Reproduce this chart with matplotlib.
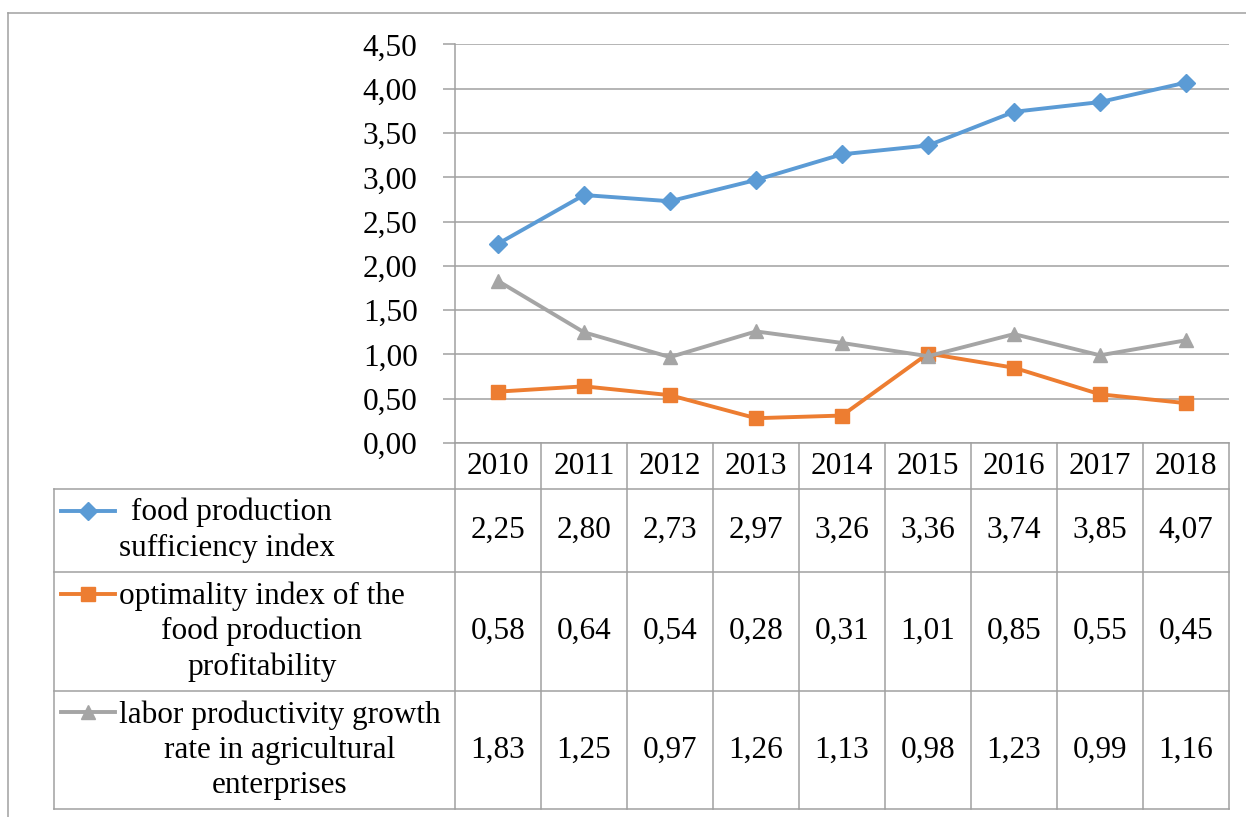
import matplotlib
matplotlib.use("Agg")
import matplotlib.pyplot as plt
from matplotlib import transforms

plt.rcParams['font.family'] = ['Liberation Serif', 'DejaVu Serif']

years = ["2010", "2011", "2012", "2013", "2014", "2015", "2016", "2017", "2018"]
sufficiency = [2.25, 2.80, 2.73, 2.97, 3.26, 3.36, 3.74, 3.85, 4.07]
profitability = [0.58, 0.64, 0.54, 0.28, 0.31, 1.01, 0.85, 0.55, 0.45]
labor_growth = [1.83, 1.25, 0.97, 1.26, 1.13, 0.98, 1.23, 0.99, 1.16]
series_labels = [
    " food production\nsufficiency index",
    "optimality index of the\nfood production\nprofitability",
    "labor productivity growth\nrate in agricultural\nenterprises",
]
y_ticks = [0.0, 0.5, 1.0, 1.5, 2.0, 2.5, 3.0, 3.5, 4.0, 4.5]

colors = ["#5B9BD5", "#ED7D31", "#A5A5A5"]
markers = ["D", "s", "^"]
msizes = [9, 10.5, 10.5]
grid_c = "#A0A0A0"
FS = 22.5

W, H = 1246, 817
fig = plt.figure(figsize=(W / 100, H / 100), dpi=100)

# overlay in pixel coordinates for frame and data table
ov = fig.add_axes([0, 0, 1, 1], zorder=0)
ov.set_xlim(0, W)
ov.set_ylim(H, 0)
ov.axis("off")

# plot area
x_left, x_right = 455, 1229
y_top, y_bot = 44.5, 443
ax = fig.add_axes([x_left / W, (H - y_bot) / H, (x_right - x_left) / W, (y_bot - y_top) / H], zorder=1)
ax.patch.set_alpha(0)
ax.set_xlim(-0.5, len(years) - 0.5)
ax.set_ylim(0, 4.5)
ax.set_yticks(y_ticks)
ax.set_yticklabels([f"{v:.2f}".replace(".", ",") for v in y_ticks], fontsize=FS)
ax.set_xticks([])
ax.tick_params(axis="y", length=9, width=1.1, color=grid_c, pad=18)
for s in ("top", "right"):
    ax.spines[s].set_visible(False)
for s in ("left", "bottom"):
    ax.spines[s].set_color(grid_c)
    ax.spines[s].set_linewidth(1.1)
ax.grid(axis="y", color=grid_c, linewidth=1.1)
ax.set_axisbelow(True)

xs = list(range(len(years)))
all_series = [sufficiency, profitability, labor_growth]
for vals, c, m, ms in zip(all_series, colors, markers, msizes):
    ax.plot(xs, vals, color=c, linewidth=2.8, marker=m, markersize=ms,
            markeredgecolor=c, clip_on=False, zorder=3)

# data table below the axis
bt = transforms.blended_transform_factory(ax.transData, ov.transData)
legend_left = 54
row_edges = [y_bot, 489, 572, 691, 809]
lw = 1.1
# horizontal rules
for y in row_edges[1:]:
    ov.plot([legend_left, x_right], [y, y], color=grid_c, lw=lw)
# vertical rules between years
for i in range(len(years) + 1):
    ov.plot([i - 0.5, i - 0.5], [row_edges[0], row_edges[-1]], color=grid_c, lw=lw, transform=bt)
ov.plot([legend_left, legend_left], [row_edges[1], row_edges[-1]], color=grid_c, lw=lw)

# header row with years
yh = (row_edges[0] + row_edges[1]) / 2
for i, yr in enumerate(years):
    ov.text(i, yh, yr, transform=bt, ha="center", va="center", fontsize=FS)

# series rows
for r, (vals, lab, c, m, ms) in enumerate(zip(all_series, series_labels, colors, markers, msizes)):
    y0, y1 = row_edges[r + 1], row_edges[r + 2]
    yc = (y0 + y1) / 2
    for i, v in enumerate(vals):
        ov.text(i, yc, f"{v:.2f}".replace(".", ","), transform=bt,
                ha="center", va="center", fontsize=FS)
    ov.text(119, yc, lab, ha="left", va="center", multialignment="center",
            fontsize=FS, linespacing=1.27)
    nlines = lab.count("\n") + 1
    ky = yc - (nlines - 1) * 18 - 2
    ov.plot([61, 115], [ky, ky], color=c, lw=2.8)
    ov.plot([88], [ky], marker=m, markersize=ms, color=c, markeredgecolor=c)

# outer chart frame
ov.plot([8, 8], [13, H], color=grid_c, lw=1.1)
ov.plot([8, W], [13, 13], color=grid_c, lw=1.1)

fig.savefig("out.png", dpi=100)
